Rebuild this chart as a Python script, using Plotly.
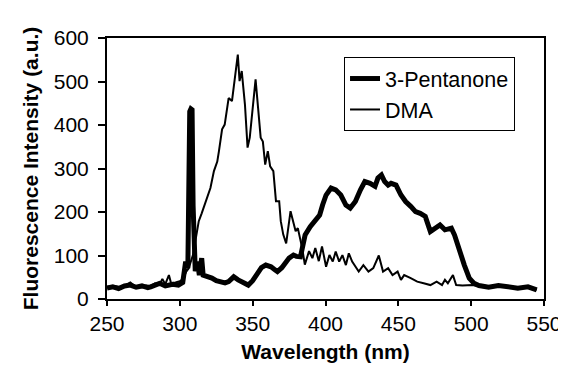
import plotly.graph_objects as go

# 3-Pentanone (thick line)
pent_wl = [250, 254, 258, 262, 266, 270, 274, 278, 280, 283, 286, 290, 295, 299, 302, 304, 305.5,
           306.8, 307.6, 308.4, 309.1, 310.6, 312, 313.4, 315, 316, 319, 322, 325, 328, 331, 333.5,
           337, 340, 344, 347, 350, 353.7, 356, 359, 362.6, 365, 367, 370, 373, 375, 378, 380,
           382.8, 384, 386, 389.5, 392, 396, 398, 400.4, 403.8, 407, 410.5, 414, 417, 420.5, 424,
           427, 430.6, 434, 436, 438.4, 440.6, 443, 445, 448.4, 451.8, 455, 458.5, 461.8, 465,
           468.5, 472, 475, 478.6, 482, 486.4, 488.6, 492, 495.3, 498.7, 502, 505.3, 512, 518.7,
           525.4, 532, 539, 543.3, 545]
pent_int = [25, 28, 24, 30, 32, 27, 30, 26, 28, 31, 36, 30, 34, 32, 38, 86, 71,
            431, 437, 435, 215, 64, 86, 55, 94, 55, 52, 48, 42, 38, 37, 40,
            51, 44, 36, 32, 42, 63, 72, 78, 74, 68, 63, 72, 85, 94, 101, 98,
            97, 115, 147, 166, 175, 193, 216, 239, 255, 251, 239, 216, 209, 224, 251,
            270, 266, 259, 278, 285, 270, 262, 266, 262, 239, 224, 213, 201, 197,
            190, 155, 163, 170, 159, 163, 147, 109, 78, 48, 36, 31, 27, 31,
            28, 25, 28, 23, 21]

# DMA (thin line)
dma_wl = [250, 255, 260, 263, 266, 269, 273, 277, 280, 283, 286, 288, 290, 292.5, 294, 297, 300,
          302, 304.4, 306, 307.8, 309, 311, 313, 315, 316.7, 319, 321, 323.4, 325.7, 326.8, 329,
          330.8, 332.4, 333.5, 335.8, 338, 339.8, 341, 342.5, 344.7, 346.5, 348, 350.3, 352,
          353.7, 355.5, 357, 358.6, 360.4, 362, 364.2, 366, 368.2, 369.3, 371, 373, 376, 378,
          379.5, 381, 383.2, 384, 385.8, 388.7, 391, 393, 395.4, 397.6, 400.4, 402.7, 405, 407,
          409.4, 411.6, 414, 416, 418.3, 420.5, 422.8, 426, 429.5, 432.8, 436.6, 439.5, 443,
          446, 449.5, 451.8, 454, 458.5, 463, 467.4, 472, 476.3, 480, 482, 484, 487.5, 489.7,
          494, 501, 505, 512, 519, 525, 532, 539, 543, 545]
dma_int = [28, 30, 27, 32, 38, 30, 29, 31, 30, 36, 33, 46, 34, 55, 36, 38, 41,
           45, 63, 70, 86, 101, 140, 179, 197, 213, 232, 255, 294, 316, 339, 390,
           401, 439, 462, 455, 516, 562, 501, 524, 447, 348, 371, 440, 505,
           440, 371, 362, 309, 340, 305, 294, 225, 225, 179, 148, 128, 202, 179,
           156, 163, 132, 117, 79, 110, 94, 117, 87, 121, 74, 101, 86, 109,
           86, 101, 78, 105, 86, 74, 63, 78, 63, 71, 100, 63, 71,
           55, 63, 44, 55, 48, 40, 36, 32, 40, 32, 44, 36, 55, 32,
           31, 32, 30, 27, 30, 28, 25, 27, 23, 21]

x_ticks = [250, 300, 350, 400, 450, 500, 550]
y_ticks = [0, 100, 200, 300, 400, 500, 600]

FONT = "Liberation Sans, Arial, sans-serif"

fig = go.Figure()
fig.add_trace(go.Scatter(x=pent_wl, y=pent_int, mode="lines", name="3-Pentanone",
                         line=dict(color="black", width=5)))
fig.add_trace(go.Scatter(x=dma_wl, y=dma_int, mode="lines", name="DMA",
                         line=dict(color="black", width=2)))

axis_common = dict(showline=True, linecolor="black", linewidth=2, mirror=True,
                   ticks="outside", tickwidth=1.5, tickcolor="black",
                   showgrid=False, zeroline=False,
                   tickfont=dict(family=FONT, size=21, color="black"))

fig.update_layout(
    width=566, height=369,
    margin=dict(l=99, r=19, t=30, b=78),
    paper_bgcolor="white", plot_bgcolor="white",
    font=dict(family=FONT, color="black"),
    xaxis=dict(range=[250, 550], tickvals=x_ticks, ticklen=5,
               title=dict(text="<b>Wavelength (nm)</b>", font=dict(family=FONT, size=21), standoff=10),
               **axis_common),
    yaxis=dict(range=[0, 600], tickvals=y_ticks, ticklen=7, ticklabelstandoff=5,
               title=dict(text="<b>Fluorescence Intensity (a.u.)</b>", font=dict(family=FONT, size=21), standoff=9),
               **axis_common),
    legend=dict(x=0.5424, y=0.927, xanchor="left", yanchor="top",
                bgcolor="white", bordercolor="black", borderwidth=1,
                font=dict(family=FONT, size=21.5, color="black"),
                tracegroupgap=0),
    showlegend=True,
)

fig.write_html("out.html")
